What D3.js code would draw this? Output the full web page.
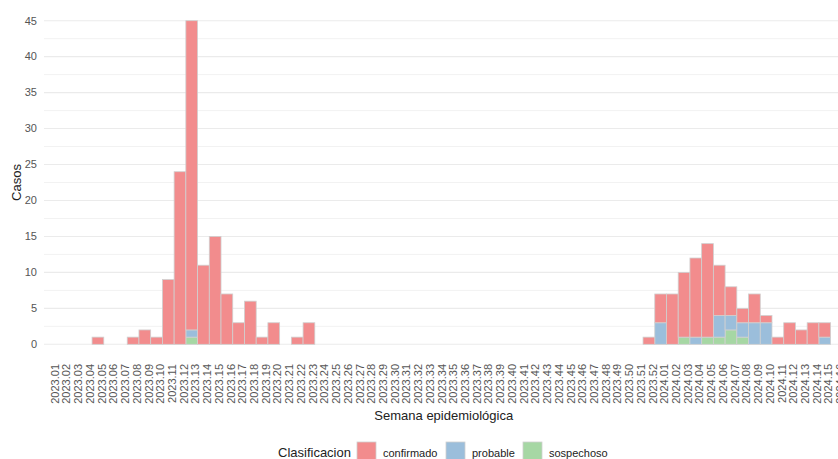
<!DOCTYPE html>
<html>
<head>
<meta charset="utf-8">
<script src="https://cdn.jsdelivr.net/npm/d3@7"></script>
<style>
    body { margin: 0; background: #fff; }
    svg { display: block; font-family: "Liberation Sans", Arial, sans-serif; }
</style>
</head>
<body>
<div id="chart"></div>
<script>
const weeks = [
    "2023.01", "2023.02", "2023.03", "2023.04", "2023.05", "2023.06", "2023.07", "2023.08", "2023.09", "2023.10",
    "2023.11", "2023.12", "2023.13", "2023.14", "2023.15", "2023.16", "2023.17", "2023.18", "2023.19", "2023.20",
    "2023.21", "2023.22", "2023.23", "2023.24", "2023.25", "2023.26", "2023.27", "2023.28", "2023.29", "2023.30",
    "2023.31", "2023.32", "2023.33", "2023.34", "2023.35", "2023.36", "2023.37", "2023.38", "2023.39", "2023.40",
    "2023.41", "2023.42", "2023.43", "2023.44", "2023.45", "2023.46", "2023.47", "2023.48", "2023.49", "2023.50",
    "2023.51", "2023.52", "2024.01", "2024.02", "2024.03", "2024.04", "2024.05", "2024.06", "2024.07", "2024.08",
    "2024.09", "2024.10", "2024.11", "2024.12", "2024.13", "2024.14", "2024.15", "2024.16"
]

const confirmado = [
    0, 0, 0, 0, 1, 0, 0, 1, 2, 1,
    9, 24, 43, 11, 15, 7, 3, 6, 1, 3,
    0, 1, 3, 0, 0, 0, 0, 0, 0, 0,
    0, 0, 0, 0, 0, 0, 0, 0, 0, 0,
    0, 0, 0, 0, 0, 0, 0, 0, 0, 0,
    0, 1, 4, 7, 9, 11, 13, 7, 4, 2,
    4, 1, 1, 3, 2, 3, 2, 0
]
const probable = [
    0, 0, 0, 0, 0, 0, 0, 0, 0, 0,
    0, 0, 1, 0, 0, 0, 0, 0, 0, 0,
    0, 0, 0, 0, 0, 0, 0, 0, 0, 0,
    0, 0, 0, 0, 0, 0, 0, 0, 0, 0,
    0, 0, 0, 0, 0, 0, 0, 0, 0, 0,
    0, 0, 3, 0, 0, 1, 0, 3, 2, 2,
    3, 3, 0, 0, 0, 0, 1, 0
]
const sospechoso = [
    0, 0, 0, 0, 0, 0, 0, 0, 0, 0,
    0, 0, 1, 0, 0, 0, 0, 0, 0, 0,
    0, 0, 0, 0, 0, 0, 0, 0, 0, 0,
    0, 0, 0, 0, 0, 0, 0, 0, 0, 0,
    0, 0, 0, 0, 0, 0, 0, 0, 0, 0,
    0, 0, 0, 0, 1, 0, 1, 1, 2, 1,
    0, 0, 0, 0, 0, 0, 0, 0
]

const yTicks = [0, 5, 10, 15, 20, 25, 30, 35, 40, 45]
const yMinor = [2.5, 7.5, 12.5, 17.5, 22.5, 27.5, 32.5, 37.5, 42.5]
const classes = ["confirmado", "probable", "sospechoso"]
const colors = { confirmado: "#F28C8D", probable: "#9BBEDB", sospechoso: "#A6D7A4" }

const width = 838, height = 459
const margin = { top: 4.5, left: 44, bottom: 360.5, right: 843.5 }

const rows = weeks.map((w, i) => ({
    week: w,
    confirmado: confirmado[i],
    probable: probable[i],
    sospechoso: sospechoso[i]
}))

// ggplot stacks the first level on top, so stack from the last class
const stack = d3.stack().keys(classes.slice().reverse())
const series = stack(rows)

const svg = d3.select("#chart")
    .append("svg")
    .attr("width", width)
    .attr("height", height)

const x = d3.scaleBand()
    .domain(weeks)
    .range([margin.left, margin.right])
    .paddingInner(0)
    .paddingOuter(0.1)

const y = d3.scaleLinear()
    .domain([-2.25, 47.25])
    .range([margin.bottom, margin.top])

// grid
svg.append("g")
    .selectAll("line")
    .data(yMinor)
    .enter().append("line")
    .attr("x1", margin.left)
    .attr("x2", margin.right)
    .attr("y1", d => y(d))
    .attr("y2", d => y(d))
    .attr("stroke", "#F2F2F2")
    .attr("stroke-width", 1)

svg.append("g")
    .selectAll("line")
    .data(yTicks)
    .enter().append("line")
    .attr("x1", margin.left)
    .attr("x2", margin.right)
    .attr("y1", d => y(d))
    .attr("y2", d => y(d))
    .attr("stroke", "#EBEBEB")
    .attr("stroke-width", 1.1)

// bars
svg.append("g")
    .selectAll("g")
    .data(series)
    .enter().append("g")
    .attr("fill", d => colors[d.key])
    .selectAll("rect")
    .data(d => d.filter(s => s[1] - s[0] > 0))
    .enter().append("rect")
    .attr("x", d => x(d.data.week))
    .attr("width", x.bandwidth())
    .attr("y", d => y(d[1]))
    .attr("height", d => y(d[0]) - y(d[1]))
    .attr("stroke", "#D0D0D0")
    .attr("stroke-width", 0.8)

// y axis labels
svg.append("g")
    .selectAll("text")
    .data(yTicks)
    .enter().append("text")
    .attr("x", 37)
    .attr("y", d => y(d))
    .attr("dy", "0.35em")
    .attr("text-anchor", "end")
    .attr("font-size", 11)
    .attr("fill", "#555")
    .text(d => d)

// x axis labels
svg.append("g")
    .selectAll("text")
    .data(weeks)
    .enter().append("text")
    .attr("transform", d => `translate(${x(d) + x.bandwidth() / 2},364) rotate(-90)`)
    .attr("dy", "0.7em")
    .attr("text-anchor", "end")
    .attr("font-size", 11)
    .attr("fill", "#555")
    .text(d => d)

// axis titles
svg.append("text")
    .attr("x", (margin.left + margin.right) / 2)
    .attr("y", 420)
    .attr("text-anchor", "middle")
    .attr("font-size", 13)
    .attr("fill", "#222")
    .text("Semana epidemiológica")

svg.append("text")
    .attr("transform", `translate(21,${(margin.top + margin.bottom) / 2}) rotate(-90)`)
    .attr("text-anchor", "middle")
    .attr("font-size", 13)
    .attr("fill", "#222")
    .text("Casos")

// legend
const legend = svg.append("g")
legend.append("text")
    .attr("x", 278)
    .attr("y", 457)
    .attr("font-size", 13)
    .attr("fill", "#222")
    .text("Clasificacion")

const legendX = { confirmado: 357, probable: 446, sospechoso: 523 }
const items = legend.selectAll(".item")
    .data(classes)
    .enter().append("g")
    .attr("class", "item")
    .attr("transform", d => `translate(${legendX[d]},442)`)

items.append("rect")
    .attr("width", 19)
    .attr("height", 19)
    .attr("fill", d => colors[d])
    .attr("stroke", "#D0D0D0")
    .attr("stroke-width", 0.8)

items.append("text")
    .attr("x", 26)
    .attr("y", 15)
    .attr("font-size", 11)
    .attr("fill", "#222")
    .text(d => d)
</script>
</body>
</html>
